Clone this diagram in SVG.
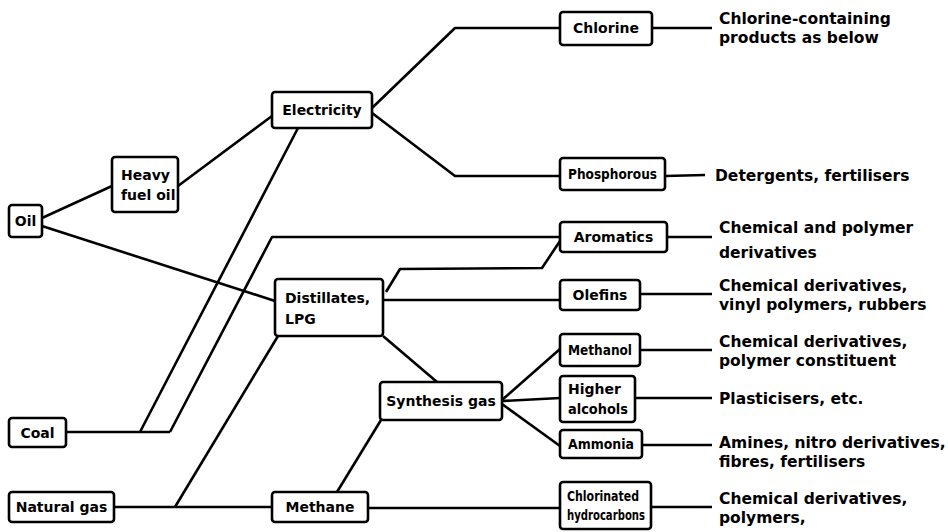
<svg xmlns="http://www.w3.org/2000/svg" width="948" height="532" viewBox="0 0 948 532">
<style>
.box{fill:#fff;stroke:#000;stroke-width:2.6}
.t{font-family:"DejaVu Sans","Liberation Sans",sans-serif;font-weight:bold;font-size:14px;fill:#000}
.c{text-anchor:middle}
.r{font-family:"DejaVu Sans","Liberation Sans",sans-serif;font-weight:bold;font-size:15.5px;fill:#000}
#connectors path{fill:none;stroke:#000;stroke-width:2.6;stroke-linejoin:round}
</style>
<rect width="948" height="532" fill="#fff"/>
<g id="connectors">
<path d="M42,218 L112,186"/>
<path d="M42,226 L275,301"/>
<path d="M178,186 L272,116"/>
<path d="M372,108 L455,28 L560,28"/>
<path d="M372,113 L455,176 L560,176"/>
<path d="M66,432 L170,432"/>
<path d="M140,432 L298,128"/>
<path d="M170,432 L272,237 L560,237"/>
<path d="M386,292 L400,269 L542,268 L560,241"/>
<path d="M383,300 L560,300"/>
<path d="M175,507 L278,336"/>
<path d="M114,507 L272,507"/>
<path d="M383,336 L437,382"/>
<path d="M337,492 L381,420"/>
<path d="M502,400 L560,349"/>
<path d="M502,401 L560,398"/>
<path d="M502,404 L560,446"/>
<path d="M368,508 L560,508"/>
<path d="M652,28 L712,28"/>
<path d="M665,176 L705,175"/>
<path d="M667,237 L712,237"/>
<path d="M640,294 L712,294"/>
<path d="M640,350 L712,350"/>
<path d="M635,398 L712,398"/>
<path d="M642,445 L712,445"/>
<path d="M651,507 L712,507"/>
</g>
<g id="oil"><rect class="box" x="9" y="205" width="33" height="32" rx="3"/><text class="t c" x="25.5" y="226">Oil</text></g>
<g id="heavy-fuel-oil"><rect class="box" x="112" y="157" width="66" height="55" rx="3"/><text class="t" x="121" y="180">Heavy</text><text class="t" x="121" y="200">fuel oil</text></g>
<g id="electricity"><rect class="box" x="272" y="92" width="100" height="36" rx="3"/><text class="t c" x="322" y="115">Electricity</text></g>
<g id="chlorine"><rect class="box" x="560" y="12" width="92" height="33" rx="3"/><text class="t c" x="606" y="33">Chlorine</text></g>
<g id="phosphorous"><rect class="box" x="560" y="158" width="105" height="32" rx="3"/><text class="t" x="568" y="179" textLength="89" lengthAdjust="spacingAndGlyphs">Phosphorous</text></g>
<g id="aromatics"><rect class="box" x="560" y="222" width="107" height="30" rx="3"/><text class="t c" x="613.5" y="242">Aromatics</text></g>
<g id="olefins"><rect class="box" x="560" y="280" width="80" height="30" rx="3"/><text class="t c" x="600" y="300">Olefins</text></g>
<g id="distillates"><rect class="box" x="275" y="279" width="108" height="57" rx="3"/><text class="t" x="285" y="303">Distillates,</text><text class="t" x="285" y="324">LPG</text></g>
<g id="methanol"><rect class="box" x="560" y="334" width="80" height="32" rx="3"/><text class="t" x="568" y="355" textLength="64" lengthAdjust="spacingAndGlyphs">Methanol</text></g>
<g id="higher-alcohols"><rect class="box" x="560" y="376" width="75" height="46" rx="3"/><text class="t" x="568" y="394">Higher</text><text class="t" x="568" y="414" textLength="60" lengthAdjust="spacingAndGlyphs">alcohols</text></g>
<g id="ammonia"><rect class="box" x="560" y="430" width="82" height="28" rx="3"/><text class="t" x="568" y="449" textLength="66" lengthAdjust="spacingAndGlyphs">Ammonia</text></g>
<g id="synthesis-gas"><rect class="box" x="380" y="382" width="122" height="38" rx="3"/><text class="t c" x="441" y="406">Synthesis gas</text></g>
<g id="coal"><rect class="box" x="9" y="418" width="57" height="29" rx="3"/><text class="t c" x="37.5" y="438">Coal</text></g>
<g id="natural-gas"><rect class="box" x="9" y="492" width="105" height="30" rx="3"/><text class="t c" x="61.5" y="512">Natural gas</text></g>
<g id="methane"><rect class="box" x="272" y="492" width="96" height="30" rx="3"/><text class="t c" x="320" y="512">Methane</text></g>
<g id="chlorinated-hydrocarbons"><rect class="box" x="560" y="482" width="91" height="47" rx="3"/><text class="t" x="567" y="501" textLength="72" lengthAdjust="spacingAndGlyphs">Chlorinated</text><text class="t" x="567" y="520" textLength="78" lengthAdjust="spacingAndGlyphs">hydrocarbons</text></g>
<g id="products">
<text class="r" x="719" y="24">Chlorine-containing</text>
<text class="r" x="719" y="43">products as below</text>
<text class="r" x="715" y="181">Detergents, fertilisers</text>
<text class="r" x="719" y="233">Chemical and polymer</text>
<text class="r" x="719" y="258">derivatives</text>
<text class="r" x="719" y="291">Chemical derivatives,</text>
<text class="r" x="719" y="310">vinyl polymers, rubbers</text>
<text class="r" x="719" y="347">Chemical derivatives,</text>
<text class="r" x="719" y="366">polymer constituent</text>
<text class="r" x="719" y="404">Plasticisers, etc.</text>
<text class="r" x="719" y="448">Amines, nitro derivatives,</text>
<text class="r" x="719" y="467">fibres, fertilisers</text>
<text class="r" x="719" y="504">Chemical derivatives,</text>
<text class="r" x="719" y="523">polymers,</text>
</g>
</svg>
